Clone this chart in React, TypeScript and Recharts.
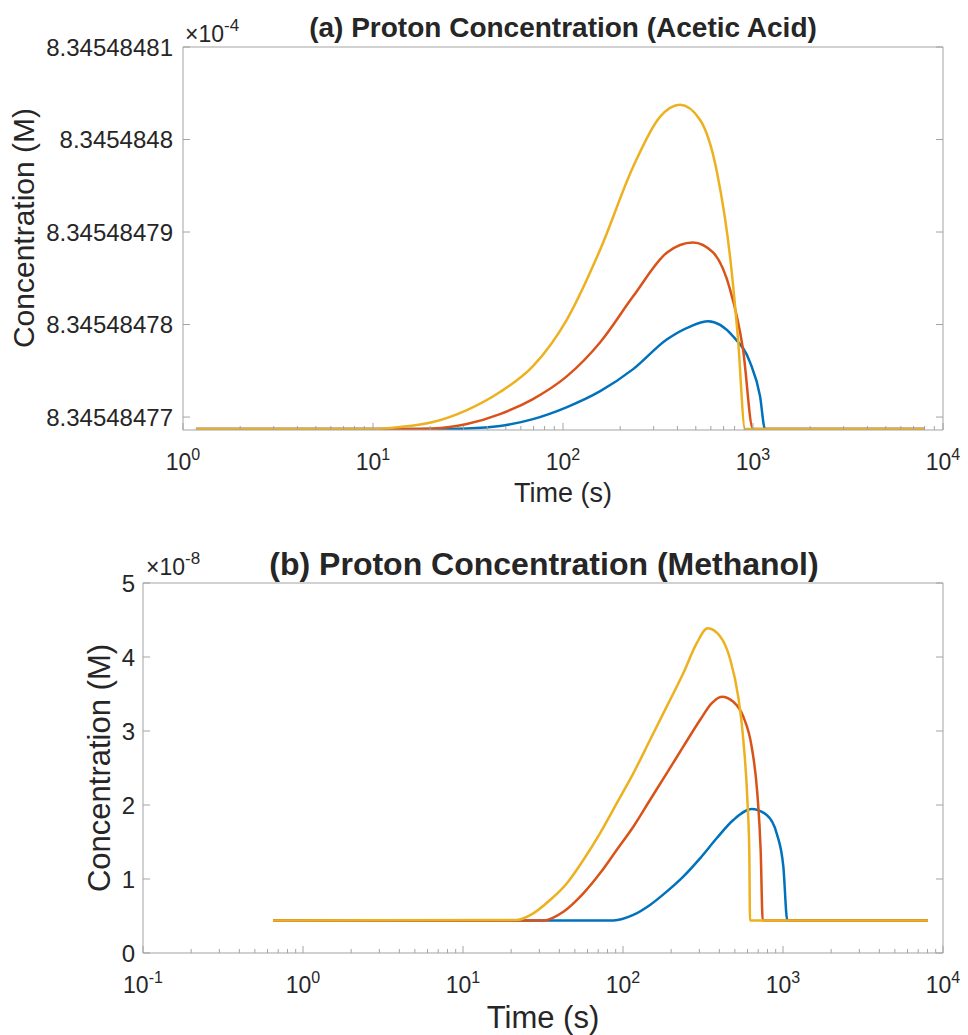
import React from 'react';
import { LineChart, Line, XAxis, YAxis } from 'recharts';

const FONT = '"Liberation Sans", Arial, Helvetica, sans-serif';
const BLUE = '#0072BD';
const RED = '#D95319';
const YELLOW = '#EDB120';
const AXIS = '#a3a3a3';
const INK = '#262626';

// ---------- Panel (a): Proton concentration (acetic acid), values in units of 1e-4 M ----------
const aXTicks = [1, 10, 100, 1000, 10000];
const aXTickExp = ['0', '1', '2', '3', '4'];
const aXMinor = [2, 3, 4, 5, 6, 7, 8, 9, 20, 30, 40, 50, 60, 70, 80, 90, 200, 300, 400, 500, 600, 700, 800, 900, 2000, 3000, 4000, 5000, 6000, 7000, 8000, 9000];
const aYTicks = [8.34548477, 8.34548478, 8.34548479, 8.3454848, 8.34548481];
const aYTickLabels = ['8.34548477', '8.34548478', '8.34548479', '8.3454848', '8.34548481'];
const aXDomain = [1, 10000];
const aYDomain = [8.3454847686, 8.34548481];

const aBlueTime = [1.17, 20.7, 31.2, 46.6, 69.5, 105, 157, 234, 353, 470, 580, 785, 964, 1089, 1157, 8035];
const aBlueConc = [8.3454847687, 8.3454847687, 8.34548476876, 8.34548476903, 8.34548476978, 8.34548477108, 8.3454847728, 8.34548477518, 8.34548477841, 8.34548477981, 8.34548478035, 8.34548477873, 8.34548477593, 8.34548477226, 8.3454847687, 8.3454847687];

const aRedTime = [1.17, 14.5, 20.7, 31.2, 46.6, 69.5, 105, 157, 234, 353, 483, 616, 757, 886, 1000, 8035];
const aRedConc = [8.3454847687, 8.3454847687, 8.34548476876, 8.34548476925, 8.34548477032, 8.34548477194, 8.34548477442, 8.34548477809, 8.34548478305, 8.34548478779, 8.34548478887, 8.34548478779, 8.3454847838, 8.34548477733, 8.3454847687, 8.3454847687];

const aYellowTime = [1.17, 9.5, 13.9, 20.7, 31.2, 46.6, 69.5, 105, 157, 234, 324, 413, 526, 647, 757, 834, 908, 8035];
const aYellowConc = [8.3454847687, 8.3454847687, 8.34548476892, 8.34548476946, 8.34548477075, 8.3454847727, 8.3454847755, 8.34548478057, 8.34548478811, 8.34548479706, 8.34548480245, 8.34548480375, 8.34548480213, 8.34548479642, 8.34548478736, 8.34548477841, 8.3454847687, 8.3454847687];

// ---------- Panel (b): Proton concentration (methanol), values in units of 1e-8 M ----------
const bXTicks = [0.1, 1, 10, 100, 1000, 10000];
const bXTickExp = ['-1', '0', '1', '2', '3', '4'];
const bXMinor = [0.2, 0.3, 0.4, 0.5, 0.6, 0.7, 0.8, 0.9, 2, 3, 4, 5, 6, 7, 8, 9, 20, 30, 40, 50, 60, 70, 80, 90, 200, 300, 400, 500, 600, 700, 800, 900, 2000, 3000, 4000, 5000, 6000, 7000, 8000, 9000];
const bYTicks = [0, 1, 2, 3, 4, 5];
const bYTickLabels = ['0', '1', '2', '3', '4', '5'];
const bXDomain = [0.1, 10000];
const bYDomain = [0, 5];

const bBlueTime = [0.65, 87, 116, 147.5, 187.5, 238, 303, 385, 489, 637, 791, 913, 1005, 1064, 8050];
const bBlueConc = [0.44, 0.44, 0.514, 0.649, 0.829, 1.032, 1.279, 1.55, 1.797, 1.946, 1.865, 1.617, 1.166, 0.44, 0.44];

const bRedTime = [0.65, 31.8, 42.4, 56.5, 71.8, 91.3, 116, 147.5, 187.5, 238, 303, 358, 414, 489, 565, 637, 691, 725, 747, 8050];
const bRedConc = [0.44, 0.44, 0.558, 0.806, 1.077, 1.392, 1.707, 2.068, 2.428, 2.788, 3.149, 3.374, 3.464, 3.396, 3.193, 2.788, 2.158, 1.392, 0.44, 0.44];

const bYellowTime = [0.65, 21.6, 27.5, 35, 44.5, 56.5, 71.8, 91.3, 116, 147.5, 187.5, 238, 288.6, 338, 404, 466, 526, 565, 599, 616, 622, 8050];
const bYellowConc = [0.44, 0.446, 0.536, 0.716, 0.94, 1.257, 1.617, 2.023, 2.428, 2.878, 3.329, 3.78, 4.185, 4.388, 4.28, 3.98, 3.45, 2.878, 2.07, 1.347, 0.44, 0.44];

const toRows = (ts: number[], cs: number[]) => ts.map((t, i) => ({ t, c: cs[i] }));

const MAJOR_LEN = 7;
const MINOR_LEN = 4;

// Bottom axis tick: inward tick mark plus "10^n" label for decades.
function BottomTick(props: any) {
  const { x, y, payload, majors, exps } = props;
  const i = majors.indexOf(payload.value);
  const isMajor = i >= 0;
  return (
    <g>
      <line x1={x} y1={y} x2={x} y2={y - (isMajor ? MAJOR_LEN : MINOR_LEN)} stroke={AXIS} strokeWidth={1} />
      {isMajor && (
        <text x={x} y={y + 40} textAnchor="middle" fontFamily={FONT} fontSize={23} fill={INK}>
          10
          <tspan dy={-10} fontSize={16}>
            {exps[i]}
          </tspan>
        </text>
      )}
    </g>
  );
}

// Top axis tick: inward tick mark only.
function TopTick(props: any) {
  const { x, y, payload, majors } = props;
  const isMajor = majors.indexOf(payload.value) >= 0;
  return <line x1={x} y1={y} x2={x} y2={y + (isMajor ? MAJOR_LEN : MINOR_LEN)} stroke={AXIS} strokeWidth={1} />;
}

// Left axis tick: label plus inward tick mark.
function LeftTick(props: any) {
  const { x, y, payload, ticks, labels, gap, fontSize } = props;
  const i = ticks.indexOf(payload.value);
  const ax = x + gap;
  return (
    <g>
      <line x1={ax} y1={y} x2={ax + MAJOR_LEN} y2={y} stroke={AXIS} strokeWidth={1} />
      <text x={x} y={y} dy="0.36em" textAnchor="end" fontFamily={FONT} fontSize={fontSize} fill={INK}>
        {labels[i]}
      </text>
    </g>
  );
}

const EmptyTick = () => <g />;

type PanelProps = {
  width: number;
  height: number;
  margin: { top: number; right: number; bottom: number; left: number };
  xDomain: number[];
  xTicks: number[];
  xExps: string[];
  xMinor: number[];
  yDomain: number[];
  yTicks: number[];
  yLabels: string[];
  yTickMargin: number;
  yFont: number;
  series: { data: { t: number; c: number }[]; color: string; name: string }[];
};

function Panel(p: PanelProps) {
  const allX = [...p.xTicks, ...p.xMinor].sort((a, b) => a - b);
  const tl = { stroke: AXIS, strokeWidth: 1 };
  return (
    <LineChart width={p.width} height={p.height} margin={p.margin}>
      <XAxis
        type="number"
        scale="log"
        domain={p.xDomain}
        allowDataOverflow
        interval={0}
        xAxisId="x"
        dataKey="t"
        ticks={allX}
        tickLine={false}
        tickSize={0}
        tickMargin={0}
        height={0.001}
        axisLine={tl}
        tick={(tp: any) => <BottomTick {...tp} majors={p.xTicks} exps={p.xExps} />}
      />
      <XAxis
        type="number"
        scale="log"
        domain={p.xDomain}
        allowDataOverflow
        interval={0}
        xAxisId="xt"
        orientation="top"
        ticks={allX}
        tickLine={false}
        tickSize={0}
        tickMargin={0}
        height={0.001}
        axisLine={tl}
        tick={(tp: any) => <TopTick {...tp} majors={p.xTicks} />}
      />
      <YAxis
        type="number"
        domain={p.yDomain}
        allowDataOverflow
        interval={0}
        ticks={p.yTicks}
        yAxisId="y"
        tickLine={false}
        tickSize={0}
        tickMargin={p.yTickMargin}
        width={0.001}
        axisLine={tl}
        tick={(tp: any) => (
          <LeftTick {...tp} ticks={p.yTicks} labels={p.yLabels} gap={p.yTickMargin} fontSize={p.yFont} />
        )}
      />
      <YAxis
        type="number"
        domain={p.yDomain}
        allowDataOverflow
        interval={0}
        ticks={p.yTicks}
        yAxisId="yr"
        orientation="right"
        mirror
        tick={EmptyTick}
        tickSize={MAJOR_LEN}
        tickMargin={0}
        tickLine={tl}
        axisLine={tl}
        width={0.001}
      />
      {p.series.map((s) => (
        <Line
          key={s.name}
          name={s.name}
          data={s.data}
          dataKey="c"
          xAxisId="x"
          yAxisId="y"
          type="monotone"
          stroke={s.color}
          strokeWidth={2.5}
          dot={false}
          activeDot={false}
          isAnimationActive={false}
        />
      ))}
    </LineChart>
  );
}

export default function App() {
  const aSeries = [
    { name: 'blue', color: BLUE, data: toRows(aBlueTime, aBlueConc) },
    { name: 'red', color: RED, data: toRows(aRedTime, aRedConc) },
    { name: 'yellow', color: YELLOW, data: toRows(aYellowTime, aYellowConc) },
  ];
  const bSeries = [
    { name: 'blue', color: BLUE, data: toRows(bBlueTime, bBlueConc) },
    { name: 'red', color: RED, data: toRows(bRedTime, bRedConc) },
    { name: 'yellow', color: YELLOW, data: toRows(bYellowTime, bYellowConc) },
  ];
  return (
    <div style={{ position: 'absolute', left: 0, top: 0, width: 968, height: 1035, background: '#fff', overflow: 'hidden' }}>
      <div style={{ position: 'absolute', left: 0, top: 0 }}>
        <Panel
          width={968}
          height={520}
          margin={{ top: 47, right: 25, bottom: 90, left: 183 }}
          xDomain={aXDomain}
          xTicks={aXTicks}
          xExps={aXTickExp}
          xMinor={aXMinor}
          yDomain={aYDomain}
          yTicks={aYTicks}
          yLabels={aYTickLabels}
          yTickMargin={10}
          yFont={24}
          series={aSeries}
        />
      </div>
      <div style={{ position: 'absolute', left: 0, top: 520 }}>
        <Panel
          width={968}
          height={515}
          margin={{ top: 63, right: 25, bottom: 82, left: 143 }}
          xDomain={bXDomain}
          xTicks={bXTicks}
          xExps={bXTickExp}
          xMinor={bXMinor}
          yDomain={bYDomain}
          yTicks={bYTicks}
          yLabels={bYTickLabels}
          yTickMargin={8}
          yFont={24}
          series={bSeries}
        />
      </div>
      <svg width={968} height={1035} style={{ position: 'absolute', left: 0, top: 0, pointerEvents: 'none' }}>
        <g fontFamily={FONT} fill={INK}>
          <text x={563} y={37} textAnchor="middle" fontSize={28} fontWeight="bold">(a) Proton Concentration (Acetic Acid)</text>
          <text x={185} y={42} fontSize={23}>
            ×10<tspan dy={-11} fontSize={17}>-4</tspan>
          </text>
          <text x={563} y={502} textAnchor="middle" fontSize={27}>Time (s)</text>
          <text transform="translate(34,228) rotate(-90)" textAnchor="middle" fontSize={30}>Concentration (M)</text>

          <text x={544} y={575} textAnchor="middle" fontSize={32} fontWeight="bold">(b) Proton Concentration (Methanol)</text>
          <text x={146} y={575} fontSize={23}>
            ×10<tspan dy={-11} fontSize={17}>-8</tspan>
          </text>
          <text x={543} y={1028} textAnchor="middle" fontSize={31}>Time (s)</text>
          <text transform="translate(110,768) rotate(-90)" textAnchor="middle" fontSize={31}>Concentration (M)</text>
        </g>
      </svg>
    </div>
  );
}
